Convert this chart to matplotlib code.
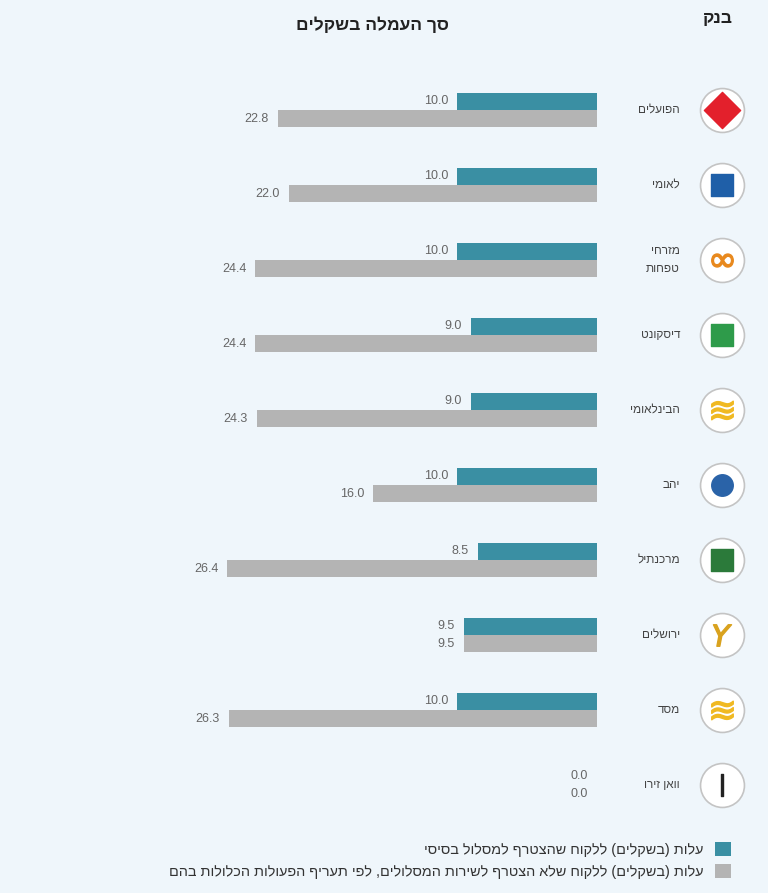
import matplotlib
matplotlib.use("Agg")
import matplotlib.pyplot as plt
from matplotlib.patches import Patch
import numpy as np

plt.rcParams['font.family'] = ['Liberation Sans', 'DejaVu Sans']

banks = ["הפועלים", "לאומי", "מזרחי\nטפחות", "דיסקונט", "הבינלאומי", "יהב",
         "מרכנתיל", "ירושלים", "מסד", "וואן זירו"]
basic_fee = [10.0, 10.0, 10.0, 9.0, 9.0, 10.0, 8.5, 9.5, 10.0, 0.0]
no_track_fee = [22.8, 22.0, 24.4, 24.4, 24.3, 16.0, 26.4, 9.5, 26.3, 0.0]
title = "סך העמלה בשקלים"
bank_header = "בנק"
legend_labels = ["עלות (בשקלים) ללקוח שהצטרף למסלול בסיסי",
                 "עלות (בשקלים) ללקוח שלא הצטרף לשירות המסלולים, לפי תעריף הפעולות הכלולות בהם"]

# simple stand-ins for bank logos: (marker, color)
logo_marks = [("D", "#e3202c"), ("s", "#1f5fa8"), ("$\\infty$", "#e8891e"), ("s", "#2e9b4a"),
              ("$≋$", "#f0b922"), ("o", "#2a63a8"), ("s", "#2b7a3a"), ("$Y$", "#d9a21e"),
              ("$≋$", "#f0b922"), ("$|$", "#222222")]

def vis(s):
    out = []
    for line in s.split("\n"):
        r = line[::-1]
        r = r.translate(str.maketrans("()", ")("))
        out.append(r)
    return "\n".join(out)

BG = "#eff6fb"
TEAL = "#3a8fa3"
GRAY = "#b4b4b4"

W, H = 768, 893
fig = plt.figure(figsize=(W / 100, H / 100), dpi=100, facecolor=BG)

# axes: data x=0 at px 597, 14 px per unit; rows 75 px apart, row0 centre at y=110
px_per_unit = 14.0
left_px, right_px = 100, 597
top_px, bot_px = 110 - 0.7 * 75, 785 + 0.7 * 75
ax = fig.add_axes([left_px / W, 1 - bot_px / H, (right_px - left_px) / W, (bot_px - top_px) / H])
ax.set_facecolor(BG)
ax.set_xlim((right_px - left_px) / px_per_unit, 0)
ax.set_ylim(9.7, -0.7)
for s in ax.spines.values():
    s.set_visible(False)
ax.set_xticks([])
ax.set_yticks([])

y = np.arange(len(banks))
bh = 0.227
ax.barh(y - bh / 2, basic_fee, height=bh, color=TEAL)
ax.barh(y + bh / 2, no_track_fee, height=bh, color=GRAY)

for i in range(len(banks)):
    ax.annotate(f"{basic_fee[i]:.1f}", (basic_fee[i], y[i] - bh / 2), xytext=(-9, 0),
                textcoords="offset pixels", ha="right", va="center", fontsize=9, color="#666666")
    ax.annotate(f"{no_track_fee[i]:.1f}", (no_track_fee[i], y[i] + bh / 2), xytext=(-9, 0),
                textcoords="offset pixels", ha="right", va="center", fontsize=9, color="#666666")
    # bank name
    ax.text(-(680 - 597) / px_per_unit, y[i], vis(banks[i]), ha="right", va="center",
            fontsize=8.5, color="#444444", clip_on=False, linespacing=1.7)
    # logo circle
    lx = -(722 - 597) / px_per_unit
    ax.scatter([lx], [y[i]], s=1000, facecolor="white", edgecolor="#c4c4c4", linewidth=1.2,
               clip_on=False, zorder=3)
    m, c = logo_marks[i]
    size = 340 if m in ("D",) else 240
    ax.scatter([lx], [y[i]], s=size, marker=m, color=c, clip_on=False, zorder=4)

fig.text(372 / W, 1 - 25 / H, vis(title), ha="center", va="center", fontsize=12.5,
         fontweight="bold", color="#222222")
fig.text(718 / W, 1 - 18 / H, vis(bank_header), ha="center", va="center", fontsize=12.5,
         fontweight="bold", color="#222222")

handles = [Patch(facecolor=TEAL, edgecolor="none"), Patch(facecolor=GRAY, edgecolor="none")]
fig.legend(handles, [vis(l) for l in legend_labels], markerfirst=False, frameon=False,
           loc="upper right", bbox_to_anchor=(738 / W, 1 - 835 / H), fontsize=10.4,
           handlelength=1.1, handleheight=1.1, handletextpad=0.8, labelspacing=0.5,
           borderpad=0, labelcolor="#333333")

fig.savefig("out.png", dpi=100, facecolor=BG)
